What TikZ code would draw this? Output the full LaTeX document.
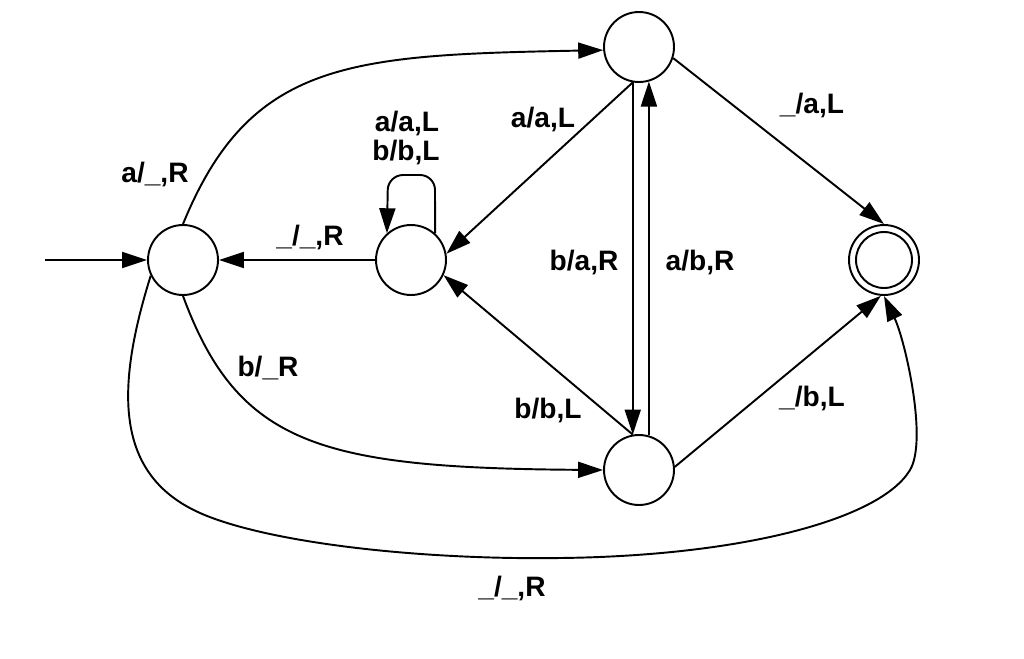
\documentclass[tikz,border=0pt]{standalone}
\usepackage{fontspec}
\setmainfont{Liberation Sans}
\usetikzlibrary{arrows.meta}
\begin{document}
\begin{tikzpicture}[x=0.02cm,y=-0.02cm,
  state/.style={circle,draw,line width=1.1pt,minimum size=1.4cm,inner sep=0pt},
  edge/.style={draw,line width=1.1pt,-{Triangle[length=0.5cm,width=0.32cm]}},
  lbl/.style={font=\fontsize{16}{19}\selectfont\bfseries,inner sep=0pt,align=center}]
\useasboundingbox (0,0) rectangle (1024,659);
\fill[white] (0,0) rectangle (1024,659);
% states
\node[state] (q0) at (183,260) {};
\node[state] (q1) at (411,260) {};
\node[state] (top) at (639,47) {};
\node[state] (bot) at (639,470) {};
\node[state] (acc) at (884,260) {};
\draw[line width=1.1pt] (acc.center) circle[radius=0.56cm];
\coordinate (start) at (45,260);
% edges
\draw[edge] (start) -- (q0);
\draw[edge] (q1) -- (q0);
\draw[edge,rounded corners=0.3cm] (q1.48) -- (435,175) -- (388,175) -- (q1.132);
\draw[edge] (q0.north) .. controls (250,60) and (350,55) .. (top.185);
\draw[edge] (q0.south) .. controls (238,445) and (320,468) .. (bot.west);
\draw[edge] (q0.206) .. controls (115,390) and (115,475) .. (200,513)
  .. controls (268,543) and (420,560) .. (560,558)
  .. controls (740,556) and (880,520) .. (910,470)
  .. controls (928,440) and (905,340) .. (acc.south);
\draw[edge] (top.260) -- (q1.10);
\draw[edge] (bot.100) -- (q1.-25);
\draw[edge] (top.260) -- (bot.100);
\draw[edge] (bot.74) -- (top.286);
\draw[edge] (top.-18) -- (acc.north);
\draw[edge] (bot.5) -- (acc.265);
% labels
\node[lbl] (l1) at (155,174) {a/\_,R};
\node[lbl] (l2) at (407,123) {a/a,L};
\node[lbl] (l3) at (406,152) {b/b,L};
\node[lbl] (l4) at (543,119) {a/a,L};
\node[lbl] (l5) at (310,237) {\_/\_,R};
\node[lbl] (l6) at (584,262) {b/a,R};
\node[lbl] (l7) at (700,262) {a/b,R};
\node[lbl] (l8) at (812,105) {\_/a,L};
\node[lbl] (l9) at (548,410) {b/b,L};
\node[lbl] (l10) at (812,398) {\_/b,L};
\node[lbl] (l11) at (268,368) {b/\_R};
\node[lbl] (l12) at (512,588) {\_/\_,R};
\end{tikzpicture}
\end{document}
